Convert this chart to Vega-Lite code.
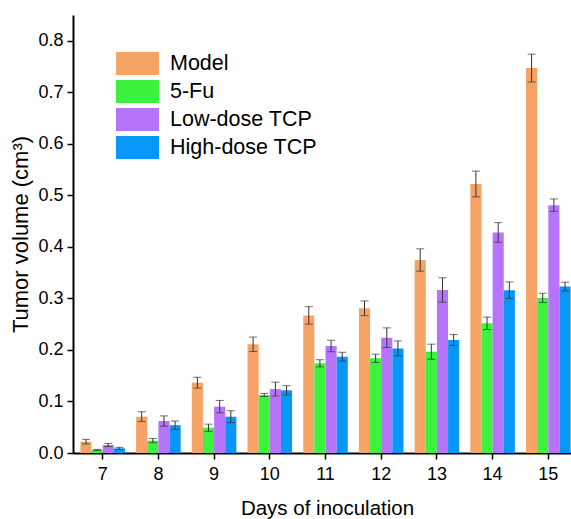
{
  "$schema": "https://vega.github.io/schema/vega-lite/v6.json",
  "autosize": {"type": "none"},
  "padding": {"left": 73, "top": 15, "right": 0, "bottom": 66},
  "width": 498,
  "height": 438,
  "background": "white",
  "config": {
    "view": {"stroke": null},
    "font": "Liberation Sans",
    "axis": {"grid": false, "labelColor": "black", "titleColor": "black", "titleFontWeight": "normal", "domainColor": "black", "tickColor": "black", "domainWidth": 2, "tickWidth": 1.5}
  },
  "data": {
    "values": [
      {"day": 7, "group": "Model", "value": 0.022, "err": 0.0045},
      {"day": 7, "group": "5-Fu", "value": 0.006, "err": 0.001},
      {"day": 7, "group": "Low-dose TCP", "value": 0.0155, "err": 0.003},
      {"day": 7, "group": "High-dose TCP", "value": 0.009, "err": 0.002},
      {"day": 8, "group": "Model", "value": 0.0705, "err": 0.0095},
      {"day": 8, "group": "5-Fu", "value": 0.024, "err": 0.004},
      {"day": 8, "group": "Low-dose TCP", "value": 0.062, "err": 0.010},
      {"day": 8, "group": "High-dose TCP", "value": 0.054, "err": 0.008},
      {"day": 9, "group": "Model", "value": 0.1365, "err": 0.0105},
      {"day": 9, "group": "5-Fu", "value": 0.049, "err": 0.007},
      {"day": 9, "group": "Low-dose TCP", "value": 0.090, "err": 0.012},
      {"day": 9, "group": "High-dose TCP", "value": 0.0705, "err": 0.0115},
      {"day": 10, "group": "Model", "value": 0.211, "err": 0.014},
      {"day": 10, "group": "5-Fu", "value": 0.1126, "err": 0.003},
      {"day": 10, "group": "Low-dose TCP", "value": 0.124, "err": 0.0135},
      {"day": 10, "group": "High-dose TCP", "value": 0.1216, "err": 0.009},
      {"day": 11, "group": "Model", "value": 0.267, "err": 0.017},
      {"day": 11, "group": "5-Fu", "value": 0.174, "err": 0.007},
      {"day": 11, "group": "Low-dose TCP", "value": 0.2076, "err": 0.011},
      {"day": 11, "group": "High-dose TCP", "value": 0.187, "err": 0.0085},
      {"day": 12, "group": "Model", "value": 0.2808, "err": 0.0143},
      {"day": 12, "group": "5-Fu", "value": 0.1837, "err": 0.008},
      {"day": 12, "group": "Low-dose TCP", "value": 0.2238, "err": 0.019},
      {"day": 12, "group": "High-dose TCP", "value": 0.203, "err": 0.0145},
      {"day": 13, "group": "Model", "value": 0.3745, "err": 0.0217},
      {"day": 13, "group": "5-Fu", "value": 0.1966, "err": 0.0146},
      {"day": 13, "group": "Low-dose TCP", "value": 0.3163, "err": 0.0237},
      {"day": 13, "group": "High-dose TCP", "value": 0.2193, "err": 0.0105},
      {"day": 14, "group": "Model", "value": 0.522, "err": 0.025},
      {"day": 14, "group": "5-Fu", "value": 0.2517, "err": 0.012},
      {"day": 14, "group": "Low-dose TCP", "value": 0.428, "err": 0.019},
      {"day": 14, "group": "High-dose TCP", "value": 0.316, "err": 0.016},
      {"day": 15, "group": "Model", "value": 0.747, "err": 0.027},
      {"day": 15, "group": "5-Fu", "value": 0.301, "err": 0.009},
      {"day": 15, "group": "Low-dose TCP", "value": 0.481, "err": 0.012},
      {"day": 15, "group": "High-dose TCP", "value": 0.323, "err": 0.0085}
    ]
  },
  "encoding": {
    "x": {
      "field": "day",
      "type": "ordinal",
      "scale": {"range": [0, 505], "paddingInner": 0.2, "paddingOuter": 0.133},
      "axis": {
        "title": "Days of inoculation",
        "titleFontSize": 20.5,
        "titlePadding": 15,
        "titleX": 254,
        "labelAngle": 0,
        "labelFontSize": 18,
        "labelPadding": 6,
        "tickSize": 6
      }
    },
    "xOffset": {
      "field": "group",
      "type": "nominal",
      "sort": ["Model", "5-Fu", "Low-dose TCP", "High-dose TCP"],
      "scale": {"paddingInner": 0, "paddingOuter": 0}
    }
  },
  "layer": [
    {
      "mark": {"type": "bar"},
      "encoding": {
        "y": {
          "field": "value",
          "type": "quantitative",
          "title": "Tumor volume (cm³)",
          "scale": {"domain": [0, 0.85], "nice": false, "zero": true},
          "axis": {
            "titleFontSize": 22,
            "titlePadding": 5,
            "labelFontSize": 18,
            "labelPadding": 4,
            "values": [0, 0.05, 0.1, 0.15, 0.2, 0.25, 0.3, 0.35, 0.4, 0.45, 0.5, 0.55, 0.6, 0.65, 0.7, 0.75, 0.8],
            "labelExpr": "round(datum.value * 100) % 10 === 0 ? format(datum.value, '.1f') : ''",
            "tickSize": {"condition": {"test": "round(datum.value * 100) % 10 !== 0", "value": 3}, "value": 6}
          }
        },
        "color": {
          "field": "group",
          "type": "nominal",
          "scale": {
            "domain": ["Model", "5-Fu", "Low-dose TCP", "High-dose TCP"],
            "range": ["#F5A466", "#3DF23D", "#B674FA", "#0897F7"]
          },
          "legend": {
            "title": null,
            "orient": "none",
            "legendX": 53,
            "legendY": 37,
            "padding": 0,
            "symbolType": "M-1.87,-1H1.87V1H-1.87Z",
            "symbolSize": 529,
            "symbolStrokeWidth": 0,
            "symbolOpacity": 1,
            "labelFontSize": 21.5,
            "labelColor": "black",
            "labelOffset": 21,
            "rowPadding": 5
          }
        }
      }
    },
    {
      "mark": {
        "type": "errorbar",
        "color": "#333333",
        "ticks": {"size": 8, "thickness": 1, "color": "#333333"},
        "rule": {"strokeWidth": 1, "color": "#333333"}
      },
      "encoding": {
        "y": {"field": "value", "type": "quantitative", "title": "Tumor volume (cm³)"},
        "yError": {"field": "err"}
      }
    }
  ]
}
